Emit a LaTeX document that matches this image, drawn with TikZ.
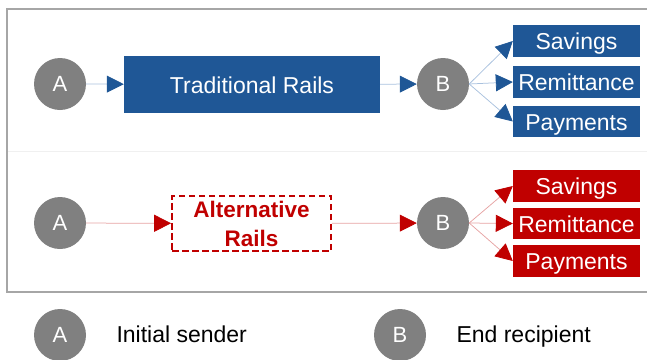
\documentclass[tikz,border=0pt]{standalone}
\usepackage{fontspec}
\setmainfont{Liberation Sans}
\usetikzlibrary{arrows.meta}
\definecolor{bblue}{HTML}{1F5796}
\definecolor{rred}{HTML}{C00000}
\definecolor{cgray}{HTML}{808080}
\definecolor{fgray}{HTML}{A6A6A6}
\definecolor{lblue}{HTML}{A9C1DE}
\definecolor{lred}{HTML}{E6A3A3}
\begin{document}
\begin{tikzpicture}[x=1pt,y=-1pt,
  person/.style={circle,fill=cgray,draw=none,inner sep=0pt,minimum size=52pt,text=white,font=\fontsize{22}{26}\selectfont},
  bluebox/.style={fill=bblue,draw=none,text=white,inner sep=0pt,text height=22pt,text depth=5pt,font=\fontsize{23}{27}\selectfont},
  redbox/.style={fill=rred,draw=none,text=white,inner sep=0pt,text height=22pt,text depth=5pt,font=\fontsize{23}{27}\selectfont},
  outbox/.style={minimum width=127pt,minimum height=31.5pt},
  barrow/.style={draw=lblue,line width=0.75pt,-{Triangle[length=17pt,width=17pt,color=bblue]}},
  rarrow/.style={draw=lred,line width=0.75pt,-{Triangle[length=17pt,width=17pt,color=rred]}},
  legend/.style={anchor=base west,font=\fontsize{23}{27}\selectfont,text=black}]
\useasboundingbox (0,0) rectangle (647,359);
% frame and divider
\draw[fgray,line width=2.5pt] (7,9) rectangle (660,292);
\draw[black!6,line width=1pt] (8,151) -- (647,151);
% top row
\node[person] (A1) at (60,84) {A};
\node[bluebox,minimum width=256pt,minimum height=57pt] (trad) at (252,84.5) {Traditional Rails};
\node[person] (B1) at (443,84) {B};
\node[bluebox,outbox] (s1) at (576.5,41) {Savings};
\node[bluebox,outbox] (r1) at (576.5,82) {Remittance};
\node[bluebox,outbox] (p1) at (576.5,121.5) {Payments};
\draw[barrow] (A1) -- (trad);
\draw[barrow] (trad) -- (B1);
\draw[barrow] (B1.east) -- (s1.west);
\draw[barrow] (B1.east) -- (r1.west);
\draw[barrow] (B1.east) -- (p1.west);
% bottom row
\node[person] (A2) at (60,223) {A};
\node[draw=rred,dash pattern=on 6.5pt off 3.5pt,line width=1.75pt,minimum width=159pt,minimum height=55pt,inner sep=0pt,text=rred,align=center,font=\bfseries\fontsize{22.5}{29}\selectfont] (alt) at (251.5,223.5) {\rule{0pt}{15pt}Alternative\\Rails};
\node[person] (B2) at (443,223) {B};
\node[redbox,outbox] (s2) at (576.5,186) {Savings};
\node[redbox,outbox] (r2) at (576.5,223.5) {Remittance};
\node[redbox,outbox] (p2) at (576.5,261) {Payments};
\draw[rarrow] (A2) -- (alt);
\draw[rarrow] (alt) -- (B2);
\draw[rarrow] (B2.east) -- (s2.west);
\draw[rarrow] (B2.east) -- (r2.west);
\draw[rarrow] (B2.east) -- (p2.west);
% legend
\node[person] (LA) at (60,335) {A};
\node[legend] (LAt) at (113,342) {Initial sender};
\node[person] (LB) at (400,335) {B};
\node[legend] (LBt) at (453,342) {End recipient};
\end{tikzpicture}
\end{document}
